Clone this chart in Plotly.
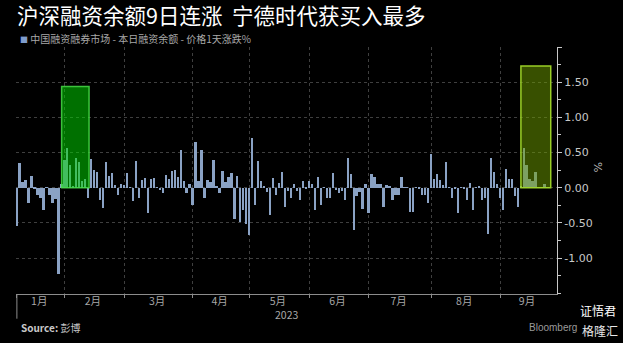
import plotly.graph_objects as go

# ---------------- data ----------------
TITLE = "沪深融资余额9日连涨  宁德时代获买入最多"
SERIES_NAME = "中国融资融券市场 - 本日融资余额 - 价格1天涨跌%"
SOURCE = "Source: 彭博"
YEAR_LABEL = "2023"
UNIT = "%"

# daily % change of margin-financing balance, one value per trading day (2023-01-03 ...)
CHANGE_PCT = [
    -0.54, 0.35, 0.08, 0.11, -0.21, 0.16, -0.02, -0.10, -0.14, -0.32,
    0.01, -0.10, -0.22, -0.16, -1.23, 0.05, 0.40, 0.56, 0.32, 0.02,
    0.42, 0.37, 0.10, 0.13, -0.14, 0.41, 0.25, 0.22, -0.18, -0.29,
    0.36, 0.16, 0.21, 0.04, -0.11, 0.05, 0.04, 0.21, 0.01, -0.19,
    0.38, -0.14, 0.11, 0.14, -0.36, 0.12, 0.14, 0.01, -0.03, -0.08,
    0.18, 0.12, 0.24, 0.25, 0.15, 0.54, 0.09, -0.08, 0.05, -0.25,
    0.65, 0.09, 0.53, -0.14, 0.11, 0.08, 0.39, 0.02, -0.07, 0.24,
    0.08, 0.15, 0.21, -0.45, 0.17, -0.49, -0.32, -0.51, -0.67, 0.70,
    -0.25, 0.38, 0.10, 0.03, -0.06, -0.39, 0.14, -0.10, 0.07, 0.22,
    -0.28, -0.05, -0.15, 0.06, -0.05, -0.18, 0.10, -0.02, 0.10, 0.06,
    -0.32, 0.15, -0.24, 0.01, -0.15, -0.15, 0.21, -0.03, -0.07, -0.04,
    -0.18, 0.42, 0.20, -0.60, -0.12, -0.06, -0.30, 0.06, -0.36, 0.20,
    0.15, 0.06, 0.06, -0.28, 0.04, 0.03, -0.18, -0.10, -0.10, 0.15,
    0.01, 0.01, -0.34, -0.35, 0.005, -0.02, -0.10, -0.10, -0.21, 0.48,
    0.12, 0.20, 0.11, 0.04, 0.37, 0.01, -0.14, -0.01, -0.36, 0.01,
    -0.02, -0.17, 0.07, -0.31, 0.01, 0.02, -0.18, -0.15, -0.66, 0.42,
    0.22, 0.06, -0.15, -0.32, 0.27, 0.12, 0.12, -0.12, -0.28, 0.03,
    0.57, 0.32, 0.12, 0.10, 0.23, 0.01, 0.01, 0.06, 0.01,
]

MONTH_LABELS = ["1月", "2月", "3月", "4月", "5月", "6月", "7月", "8月", "9月"]
MONTH_START_IDX = [0, 16, 36, 59, 78, 98, 118, 139, 162]

Y_TICKS = [-1.0, -0.5, 0.0, 0.5, 1.0, 1.5]
Y_TICK_TEXT = ["-1.00", "-0.50", "0.00", "0.50", "1.00", "1.50"]

# highlighted streaks: (first day index, last day index, box top in %)
STREAK_START = [15, 169]
STREAK_END = [24.2, 179]
STREAK_TOP = [1.44, 1.73]

# ---------------- figure ----------------
X_MAX = 181.1
x_idx = list(range(len(CHANGE_PCT)))

fig = go.Figure()
fig.add_trace(go.Bar(
    x=x_idx, y=CHANGE_PCT, width=0.6,
    marker=dict(color="#8aa2c4", line=dict(width=0)),
    name=SERIES_NAME, showlegend=False,
))

bounds = MONTH_START_IDX + [X_MAX]
month_centers = [(bounds[i] + bounds[i + 1]) / 2 - 0.5 for i in range(len(MONTH_LABELS))]

grid_col = "#3f3f3f"
fig.update_layout(
    width=623, height=343,
    margin=dict(l=16, r=66, t=47, b=49),
    paper_bgcolor="#000000", plot_bgcolor="#000000",
    bargap=0,
    font=dict(family="Noto Sans CJK SC, Noto Sans, sans-serif", color="#b4b4b4", size=10),
    xaxis=dict(
        range=[-0.3, X_MAX],
        tickmode="array", tickvals=month_centers, ticktext=MONTH_LABELS,
        ticks="", showgrid=False, zeroline=False,
        showline=True, linecolor="#8c8c8c", linewidth=1,
        tickfont=dict(size=10.5, color="#a8a8a8"),
        ticklabelstandoff=-3,
        minor=dict(tickmode="array", tickvals=MONTH_START_IDX, showgrid=True,
                   griddash="dot", gridcolor=grid_col, gridwidth=1,
                   ticks="outside", ticklen=3, tickcolor="#8c8c8c"),
    ),
    yaxis=dict(
        range=[-1.51, 2.0], side="right",
        tickmode="array", tickvals=Y_TICKS + [2.0], ticktext=Y_TICK_TEXT + [""],
        ticks="outside", ticklen=4, tickcolor="#c8c8c8",
        showgrid=True, griddash="dot", gridcolor=grid_col, gridwidth=1,
        zeroline=False, showline=True, linecolor="#c8c8c8", linewidth=1,
        tickfont=dict(family="DejaVu Sans, sans-serif", size=11, color="#c8c8c8"),
        minor=dict(dtick=0.25, tick0=0, ticks="outside", ticklen=3,
                   tickcolor="#c8c8c8", showgrid=False),
    ),
)

# highlight boxes
box_fill = ["rgba(0,215,0,0.52)", "rgba(112,160,0,0.5)"]
box_line = ["rgba(70,220,70,0.85)", "rgba(160,215,40,0.95)"]
for i in range(len(STREAK_START)):
    fig.add_shape(type="rect", xref="x", yref="y",
                  x0=STREAK_START[i], x1=STREAK_END[i], y0=0, y1=STREAK_TOP[i],
                  fillcolor=box_fill[i], line=dict(color=box_line[i], width=1.5),
                  layer="above")

# year separator tick
fig.add_shape(type="line", xref="x", yref="paper", x0=MONTH_START_IDX[0], x1=MONTH_START_IDX[0],
              y0=0, y1=-0.1, line=dict(color="#8c8c8c", width=1))

cjk = "Noto Sans CJK SC"
fig.add_annotation(xref="paper", yref="paper", x=-0.002, y=1.132, xanchor="left", yanchor="middle",
                   text=TITLE, showarrow=False, font=dict(family=cjk, size=21.5, color="#ffffff"))
fig.add_annotation(xref="paper", yref="paper", x=0.003, y=1.035, xanchor="left", yanchor="middle",
                   text="<span style='color:#7f9ccc;font-size:8px'>■</span> " + SERIES_NAME,
                   showarrow=False, font=dict(family=cjk, size=10, color="#a8a8a8"))
fig.add_annotation(xref="x", yref="paper", x=(MONTH_START_IDX[0] + X_MAX) / 2, y=-0.082,
                   xanchor="center", yanchor="middle", text=YEAR_LABEL, showarrow=False,
                   font=dict(family=cjk, size=10.5, color="#a8a8a8"))
fig.add_annotation(xref="paper", yref="paper", x=0.005, y=-0.136, xanchor="left", yanchor="middle",
                   text="<b>Source:</b> 彭博", showarrow=False,
                   font=dict(family=cjk, size=10, color="#c8c8c8"))
fig.add_annotation(xref="paper", yref="y", x=1.075, y=0.3, xanchor="center", yanchor="middle",
                   text=UNIT, textangle=90, showarrow=False,
                   font=dict(family="DejaVu Sans", size=11, color="#b4b4b4"))
# bottom-right marks
fig.add_annotation(xref="paper", yref="paper", x=1.04, y=-0.136, xanchor="right", yanchor="middle",
                   text="Bloomberg", showarrow=False, font=dict(family="Liberation Sans", size=10, color="#9a9a9a"))
fig.add_annotation(xref="paper", yref="paper", x=1.112, y=-0.068, xanchor="right", yanchor="middle",
                   text="证悟君", showarrow=False, font=dict(family=cjk, size=12, color="#ffffff"))
fig.add_annotation(xref="paper", yref="paper", x=1.116, y=-0.148, xanchor="right", yanchor="middle",
                   text="格隆汇", showarrow=False, font=dict(family=cjk, size=12, color="#e8e8e8"))

fig.write_html("out.html")
